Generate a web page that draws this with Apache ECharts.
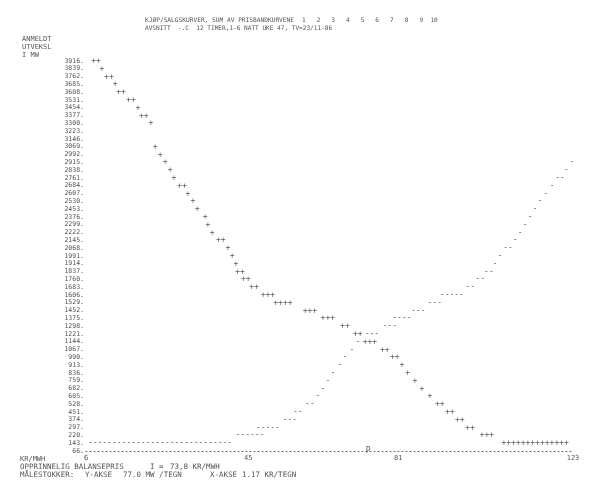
<!DOCTYPE html>
<html><head><meta charset="utf-8">
<script src="https://cdn.jsdelivr.net/npm/echarts@6/dist/echarts.min.js"></script>
<style>html,body{margin:0;background:#fff}#c{width:589px;height:482px}</style>
</head><body><div id="c"></div>
<script>
// Y axis tick labels (MW), X axis tick labels (KR/MWH)
const yTicks = [66,143,220,297,374,451,528,605,682,759,836,913,990,1067,1144,1221,1298,1375,1452,1529,1606,1683,1760,1837,1914,1991,2068,2145,2222,2299,2376,2453,2530,2607,2684,2761,2838,2915,2992,3069,3146,3223,3300,3377,3454,3531,3608,3685,3762,3839,3916];
const xTicks = [6,45,81,123];

// Buy curve ('+'): MW level, price at centre of run, number of printed characters
const buyMW    = [3916,3839,3762,3685,3608,3531,3454,3377,3300,3069,2992,2915,2838,2761,2684,2607,2530,2453,2376,2299,2222,2145,2068,1991,1914,1837,1760,1683,1606,1529,1452,1375,1298,1221,1144,1067,990,913,836,759,682,605,528,451,374,297,220,143];
const buyPrice = [8.4,9.8,11.5,13.0,14.4,16.8,18.5,19.9,21.6,22.6,23.8,25.0,26.2,27.1,29.1,30.5,31.7,32.7,34.6,35.3,36.3,38.4,40.1,41.1,42.0,43.0,44.4,46.4,49.7,53.3,59.8,64.1,68.2,71.3,74.2,77.8,80.2,81.9,83.3,85.0,86.7,88.6,91.0,93.4,95.8,98.3,102.3,113.9];
const buyCount = [2,1,2,1,2,2,1,2,1,1,1,1,1,1,2,1,1,1,1,1,1,2,1,1,1,2,2,2,3,4,3,3,2,2,3,2,2,1,1,1,1,1,2,2,2,2,3,14];

// Sell curve ('-')
const sellMW    = [143,220,297,374,451,528,605,682,759,836,913,990,1067,1144,1221,1298,1375,1452,1529,1606,1683,1760,1837,1914,1991,2068,2145,2222,2299,2376,2453,2530,2607,2684,2761,2838,2915];
const sellPrice = [23.8,45.4,49.7,55.0,56.9,59.8,61.7,62.9,64.1,65.3,67.0,68.2,69.9,71.3,74.7,79.0,81.9,85.8,89.8,93.9,98.3,100.7,102.8,104.3,105.5,107.4,109.1,110.3,111.5,112.7,113.9,115.1,116.5,118.0,119.9,121.4,122.8];
const sellCount = [30,6,5,3,2,2,1,1,1,1,1,1,1,1,3,3,4,3,3,5,2,2,2,1,1,2,1,1,1,1,1,1,1,1,2,1,1];

const eqPrice = 73.8;
const eqMW = 66;

const mono = 'DejaVu Sans Mono';
const ink = '#333';
const txt = '#555';

function runs(mw, price, count) {
  return mw.map((m, i) => ({ value: [price[i], m, count[i]] }));
}

const chart = echarts.init(document.getElementById('c'), null, { renderer: 'canvas' });
const charLabel = (ch) => ({
  show: true, position: 'inside',
  formatter: p => ch.repeat(p.value[2]),
  fontFamily: mono, fontSize: 8, color: ink
});
const t = (left, top, text, size) => ({ type: 'text', left, top,
  style: { text, font: (size || 7) + 'px ' + mono, fill: txt, lineHeight: 8 } });
chart.setOption({
  animation: false,
  backgroundColor: '#fff',
  grid: { left: 86, right: 16, top: 61, bottom: 31 },
  xAxis: {
    type: 'value', min: 6, max: 123,
    axisLine: { show: true, lineStyle: { color: '#666', type: [1, 3], width: 1 } },
    axisTick: { show: false }, splitLine: { show: false },
    axisLabel: { customValues: xTicks, fontFamily: mono, fontSize: 7, color: txt, margin: 4 }
  },
  yAxis: {
    type: 'value', min: 66, max: 3916,
    axisLine: { show: false }, axisTick: { show: false }, splitLine: { show: false },
    axisLabel: { customValues: yTicks, formatter: v => v + '.', fontFamily: mono, fontSize: 6.5, color: txt, margin: 2 }
  },
  series: [
    { type: 'scatter', symbolSize: 1, itemStyle: { color: 'rgba(0,0,0,0)' },
      data: runs(buyMW, buyPrice, buyCount), label: charLabel('+') },
    { type: 'scatter', symbolSize: 1, itemStyle: { color: 'rgba(0,0,0,0)' },
      data: runs(sellMW, sellPrice, sellCount), label: charLabel('-') },
    { type: 'scatter', symbolSize: 1, itemStyle: { color: 'rgba(0,0,0,0)' },
      data: [[eqPrice, eqMW, 1]], label: charLabel('P') }
  ],
  graphic: [
    t(145, 16, 'KJØP/SALGSKURVER, SUM AV PRISBANDKURVENE', 6.2),
    t(302, 16, '1   2   3   4   5   6   7   8   9  10', 6.1),
    t(145, 24, 'AVSNITT  -.C  12 TIMER,1-6 NATT UKE 47, TV=23/11-86', 6.1),
    t(22, 35, 'ANMELDT\nUTVEKSL\nI MW', 7),
    t(20, 455, 'KR/MWH', 7),
    t(20, 463, 'OPPRINNELIG BALANSEPRIS', 7.5),
    t(150, 463, 'I =', 7.5),
    t(170, 463, '73,8 KR/MWH', 7.5),
    t(20, 471, 'MÅLESTOKKER:', 7.5),
    t(85, 471, 'Y-AKSE', 7.5),
    t(123, 471, '77.0 MW /TEGN', 7.5),
    t(210, 471, 'X-AKSE', 7.5),
    t(242, 471, '1.17 KR/TEGN', 7.5)
  ]
});
</script></body></html>
